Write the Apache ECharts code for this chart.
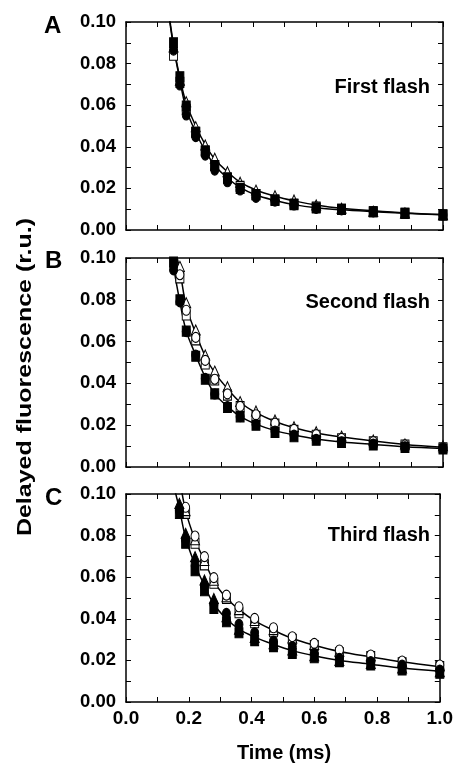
<!DOCTYPE html>
<html>
<head>
<meta charset="utf-8">
<script src="https://cdn.jsdelivr.net/npm/echarts@6/dist/echarts.min.js"></script>
<style>
  html, body { margin: 0; padding: 0; background: #fff; }
  #chart { width: 456px; height: 767px; }
</style>
</head>
<body>
<div id="chart"></div>
<script>
// time points (ms)
var tAll = [0.15, 0.17, 0.19, 0.22, 0.25, 0.28, 0.32, 0.36, 0.41, 0.47, 0.53, 0.60, 0.68, 0.78, 0.88, 1.0];
var tFrom17 = [0.17, 0.19, 0.22, 0.25, 0.28, 0.32, 0.36, 0.41, 0.47, 0.53, 0.60, 0.68, 0.78, 0.88, 1.0];
var tFrom19 = [0.19, 0.22, 0.25, 0.28, 0.32, 0.36, 0.41, 0.47, 0.53, 0.60, 0.68, 0.78, 0.88, 1.0];
var tFit = [0.13, 0.15, 0.17, 0.19, 0.22, 0.25, 0.28, 0.32, 0.36, 0.41, 0.47, 0.53, 0.60, 0.68, 0.78, 0.88, 1.0];

// A - first flash
var aFilledSquare = [0.090, 0.0737, 0.0596, 0.047, 0.038, 0.031, 0.025, 0.020, 0.017, 0.0142, 0.0122, 0.0106, 0.0099, 0.0088, 0.0080, 0.0073];
var aFilledCircle = [0.0865, 0.0697, 0.0553, 0.0449, 0.036, 0.0288, 0.0232, 0.0192, 0.0157, 0.0139, 0.012, 0.0104, 0.0097, 0.0087, 0.0080, 0.0072];
var aOpenSquare = [0.084, 0.071, 0.058, 0.047, 0.038, 0.031, 0.025, 0.021, 0.017, 0.0145, 0.0125, 0.011, 0.0099, 0.0088, 0.0080, 0.0072];
var aOpenTriangle = [0.088, 0.072, 0.0617, 0.0497, 0.0409, 0.0345, 0.028, 0.023, 0.0192, 0.0165, 0.0144, 0.012, 0.0105, 0.0090, 0.0082, 0.0074];
var aFitUpper = [0.110, 0.089, 0.073, 0.061, 0.050, 0.041, 0.034, 0.028, 0.023, 0.0192, 0.0162, 0.0140, 0.0120, 0.0104, 0.0092, 0.0082, 0.0074];
var aFitLower = [0.109, 0.088, 0.072, 0.058, 0.047, 0.038, 0.031, 0.025, 0.0205, 0.0168, 0.0142, 0.0122, 0.0107, 0.0097, 0.0088, 0.0080, 0.0073];

// B - second flash
var bFilledCircle = [0.0943, 0.079, 0.0648, 0.0536, 0.0424, 0.0349, 0.0289, 0.0241, 0.0204, 0.0172, 0.0153, 0.0132, 0.0121, 0.011, 0.0097, 0.0089];
var bFilledSquare = [0.098, 0.080, 0.065, 0.053, 0.042, 0.035, 0.0285, 0.024, 0.020, 0.0165, 0.0145, 0.0128, 0.0118, 0.0105, 0.0094, 0.0086];
var bOpenTriangle = [0.096, 0.0786, 0.0656, 0.0536, 0.0459, 0.0384, 0.0313, 0.0268, 0.0225, 0.0193, 0.0169, 0.0148, 0.0129, 0.011, 0.0102];
var bOpenSquare = [0.0905, 0.0727, 0.0608, 0.0493, 0.0416, 0.0344, 0.0289, 0.0241, 0.0205, 0.0175, 0.0152, 0.0135, 0.012, 0.0105, 0.0092];
var bOpenCircle = [0.092, 0.075, 0.062, 0.051, 0.042, 0.035, 0.029, 0.025, 0.021, 0.018, 0.0155, 0.0137, 0.0121, 0.0106, 0.0093];
var bFitUpper = [0.125, 0.108, 0.094, 0.077, 0.064, 0.053, 0.045, 0.0375, 0.031, 0.026, 0.0218, 0.0188, 0.0163, 0.0143, 0.0124, 0.0108, 0.0094];
var bFitLower = [0.118, 0.096, 0.079, 0.065, 0.0535, 0.043, 0.035, 0.029, 0.0242, 0.0205, 0.0174, 0.0153, 0.0134, 0.0120, 0.0108, 0.0097, 0.0088];

// C - third flash
var cFilledTriangle = [0.0955, 0.0811, 0.0699, 0.0587, 0.0498, 0.041, 0.035, 0.031, 0.028, 0.025, 0.0222, 0.020, 0.0185, 0.0163, 0.0145];
var cFilledSquare = [0.0907, 0.0763, 0.0631, 0.0535, 0.045, 0.0386, 0.0333, 0.0295, 0.0266, 0.0234, 0.0213, 0.0194, 0.0178, 0.0154, 0.0138];
var cFilledCircle = [0.092, 0.078, 0.066, 0.056, 0.047, 0.0426, 0.0373, 0.0333, 0.0293, 0.0266, 0.0234, 0.021, 0.0194, 0.0178, 0.0154];
var cOpenCircle = [0.0936, 0.0798, 0.0699, 0.0598, 0.0514, 0.0458, 0.0402, 0.0357, 0.0314, 0.0282, 0.025, 0.0226, 0.0197, 0.0178];
var cOpenTriangle = [0.092, 0.078, 0.068, 0.0585, 0.0506, 0.0444, 0.0392, 0.0348, 0.0308, 0.0277, 0.0244, 0.0222, 0.0193, 0.0174];
var cOpenSquare = [0.0907, 0.0763, 0.0659, 0.0571, 0.0498, 0.0429, 0.0381, 0.0338, 0.0301, 0.0271, 0.0237, 0.0218, 0.0189, 0.017];
var cFitUpper = [0.150, 0.125, 0.108, 0.092, 0.078, 0.068, 0.058, 0.050, 0.0445, 0.039, 0.0345, 0.0305, 0.0273, 0.0243, 0.0217, 0.0193, 0.0170];
var cFitLower = [0.128, 0.106, 0.093, 0.079, 0.066, 0.056, 0.047, 0.040, 0.035, 0.0312, 0.0277, 0.0247, 0.0222, 0.0200, 0.0182, 0.0163, 0.0148];

var FONT = 'Liberation Sans, Arial, Helvetica, sans-serif';
var panelTops = [22, 258, 494];
var panelHeights = [208, 209, 208];

function pairs(xs, ys) {
    var out = [];
    for (var i = 0; i < ys.length; i++) {
        out.push([xs[i], ys[i]]);
    }
    return out;
}

var grids = [], xAxes = [], yAxes = [], series = [];

for (var p = 0; p < 3; p++) {
    grids.push({left: 126, width: 317, top: panelTops[p], height: panelHeights[p], show: false});
    // bottom and top x axes (box frame, ticks inside)
    for (var k = 0; k < 2; k++) {
        xAxes.push({
            gridIndex: p,
            type: 'value',
            position: k == 0 ? 'bottom' : 'top',
            min: 0, max: 1, interval: 0.2,
            axisLine: {show: true, onZero: false, lineStyle: {color: '#000', width: 1.5}},
            axisTick: {show: true, inside: true, length: 5, lineStyle: {color: '#000', width: 1}},
            minorTick: {show: true, splitNumber: 2, length: 5, lineStyle: {color: '#000', width: 1}},
            axisLabel: {
                show: (p == 2 && k == 0),
                color: '#000', fontFamily: FONT, fontWeight: 'bold', fontSize: 19, margin: 7,
                formatter: function (v) { return v.toFixed(1); }
            },
            splitLine: {show: false}
        });
    }
    // left and right y axes
    for (var k = 0; k < 2; k++) {
        yAxes.push({
            gridIndex: p,
            type: 'value',
            position: k == 0 ? 'left' : 'right',
            min: 0, max: 0.1, interval: 0.02,
            axisLine: {show: true, onZero: false, lineStyle: {color: '#000', width: 1.5}},
            axisTick: {show: true, inside: true, length: 5, lineStyle: {color: '#000', width: 1}},
            minorTick: {show: true, splitNumber: 2, length: 5, lineStyle: {color: '#000', width: 1}},
            axisLabel: {
                show: k == 0,
                color: '#000', fontFamily: FONT, fontWeight: 'bold', fontSize: 18.5, margin: 10,
                formatter: function (v) { return v.toFixed(2); }
            },
            splitLine: {show: false}
        });
    }
}

function fitLine(p, ys) {
    series.push({
        type: 'line',
        xAxisIndex: p * 2, yAxisIndex: p * 2,
        data: pairs(tFit, ys),
        smooth: 0.35,
        showSymbol: false,
        symbol: 'none',
        clip: true,
        silent: true,
        z: 2,
        lineStyle: {color: '#000', width: 1.5}
    });
}

function markers(p, xs, ys, shape, filled) {
    series.push({
        type: 'scatter',
        xAxisIndex: p * 2, yAxisIndex: p * 2,
        data: pairs(xs, ys),
        symbol: shape,
        symbolSize: shape == 'triangle' ? [9, 10] : [8, 10],
        clip: true,
        z: filled ? 4 : 3,
        itemStyle: {
            color: filled ? '#000' : '#fff',
            borderColor: '#000',
            borderWidth: 1,
            opacity: 1
        }
    });
}

// panel A
fitLine(0, aFitUpper);
fitLine(0, aFitLower);
markers(0, tAll, aOpenTriangle, 'triangle', false);
markers(0, tAll, aOpenSquare, 'rect', false);
markers(0, tAll, aFilledSquare, 'rect', true);
markers(0, tAll, aFilledCircle, 'circle', true);

// panel B
fitLine(1, bFitUpper);
fitLine(1, bFitLower);
markers(1, tFrom17, bOpenTriangle, 'triangle', false);
markers(1, tFrom17, bOpenSquare, 'rect', false);
markers(1, tFrom17, bOpenCircle, 'circle', false);
markers(1, tAll, bFilledSquare, 'rect', true);
markers(1, tAll, bFilledCircle, 'circle', true);

// panel C
fitLine(2, cFitUpper);
fitLine(2, cFitLower);
markers(2, tFrom19, cOpenSquare, 'rect', false);
markers(2, tFrom19, cOpenTriangle, 'triangle', false);
markers(2, tFrom19, cOpenCircle, 'circle', false);
markers(2, tFrom17, cFilledSquare, 'rect', true);
markers(2, tFrom17, cFilledCircle, 'circle', true);
markers(2, tFrom17, cFilledTriangle, 'triangle', true);

function label(x, y, text, size, align) {
    return {
        type: 'text', x: x, y: y, silent: true,
        style: {
            text: text, fill: '#000',
            font: 'bold ' + size + 'px ' + FONT,
            textAlign: align || 'left', textVerticalAlign: 'middle'
        }
    };
}

var graphics = [
    label(44, 26, 'A', 24),
    label(45, 261, 'B', 24),
    label(45, 498, 'C', 24),
    label(430, 87, 'First flash', 20, 'right'),
    label(430, 302, 'Second flash', 20, 'right'),
    label(430, 535, 'Third flash', 20, 'right'),
    label(284, 753, 'Time (ms)', 20, 'center'),
    {
        type: 'text', x: 25, y: 377, rotation: Math.PI / 2, scaleX: 1.25, silent: true,
        style: {
            text: 'Delayed fluorescence (r.u.)', fill: '#000',
            font: 'bold 20px ' + FONT,
            textAlign: 'center', textVerticalAlign: 'middle'
        }
    }
];

var chart = echarts.init(document.getElementById('chart'), null, {renderer: 'canvas'});
chart.setOption({
    animation: false,
    backgroundColor: '#fff',
    grid: grids,
    xAxis: xAxes,
    yAxis: yAxes,
    series: series,
    graphic: graphics
});
</script>
</body>
</html>
